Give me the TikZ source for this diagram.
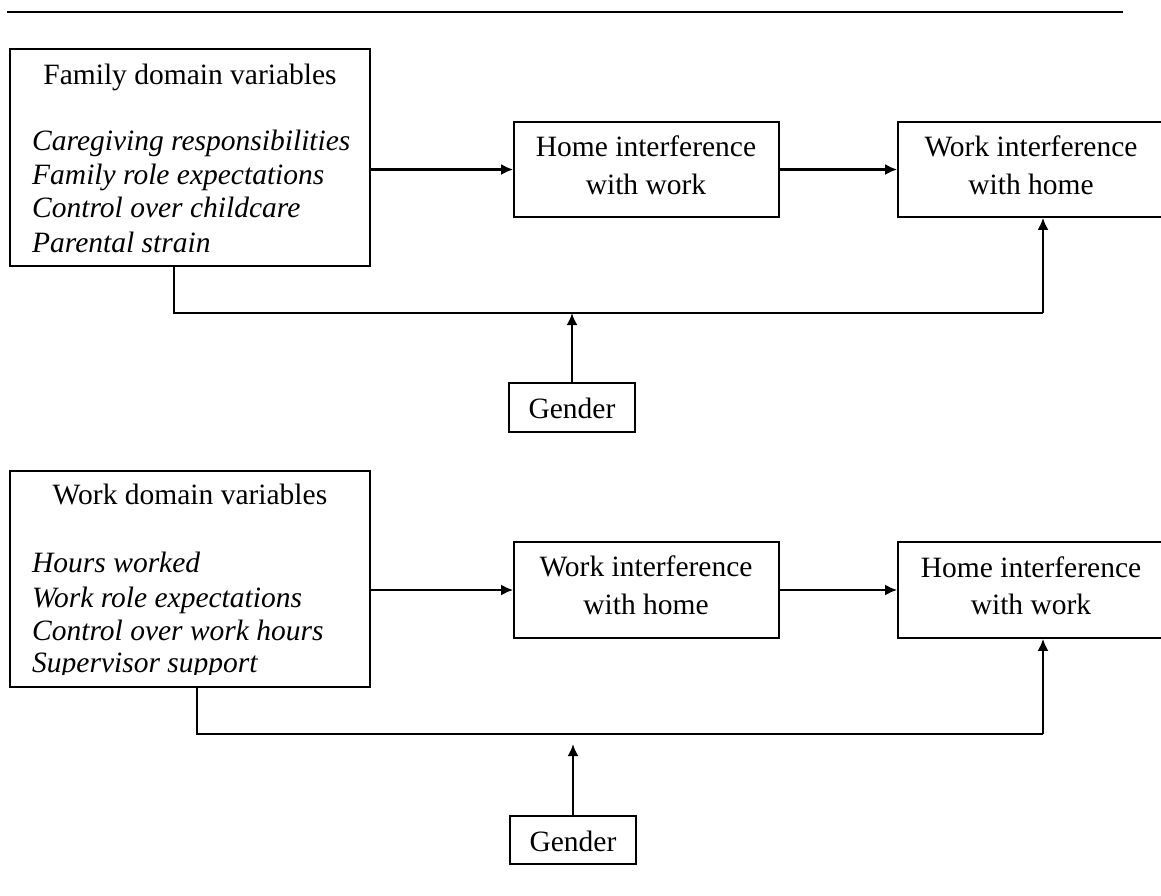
\documentclass[tikz,border=0pt]{standalone}
\usepackage{fontspec}
\setmainfont{Liberation Serif}
\usetikzlibrary{arrows.meta}

\begin{document}
\begin{tikzpicture}[x=1pt,y=-1pt,
  box/.style={draw=black,line width=1.6pt,rectangle,inner sep=0pt},
  lbl/.style={font=\fontsize{29.5}{37}\selectfont,inner sep=0pt,anchor=base},
  item/.style={font=\fontsize{29.5}{37}\selectfont\itshape,inner sep=0pt,anchor=base west},
  arr/.style={line width=2.5pt,-{Latex[length=12pt,width=11pt]}},
  link/.style={line width=1.6pt}]
\useasboundingbox (0,0) rectangle (1161,896);

% rule across the top
\draw[line width=2.6pt] (7,12) -- (1123,12);

% ---------- upper model: family domain ----------
\node[box,minimum width=360pt,minimum height=217pt] (fam) at (190,157.5) {};
\node[lbl] (famtitle) at (190,85) {Family domain variables};
\node[item] (f1) at (32,151) {Caregiving responsibilities};
\node[item] (f2) at (32,185) {Family role expectations};
\node[item] (f3) at (32,218) {Control over childcare};
\node[item] (f4) at (32,252) {Parental strain};

\node[box,minimum width=265pt,minimum height=95pt] (hiw1) at (646.5,169.5) {};
\node[lbl] at (646,157) {Home interference};
\node[lbl] at (646,195) {with work};

\node[box,minimum width=266pt,minimum height=95pt] (wih1) at (1031,169.5) {};
\node[lbl] at (1031,157) {Work interference};
\node[lbl] at (1031,195) {with home};

\node[box,minimum width=126pt,minimum height=49pt] (gen1) at (572,407.5) {};
\node[lbl] at (572,418) {Gender};

\coordinate (c1a) at (174,313);
\coordinate (c1b) at (1043,313);
\coordinate (m1) at (572,313);

\draw[arr] (fam.east |- hiw1.west) -- (hiw1.west);
\draw[arr] (hiw1.east) -- (wih1.west);
\draw[link] (fam.south -| c1a) -- (c1a) -- (c1b);
\draw[arr] (c1b) -- (wih1.south -| c1b);
\draw[arr] (gen1.north) -- (m1);

% ---------- lower model: work domain ----------
\node[box,minimum width=360pt,minimum height=216pt] (wrk) at (190,579) {};
\node[lbl] (wrktitle) at (190,504) {Work domain variables};
\node[item] (w1) at (32,572) {Hours worked};
\node[item] (w2) at (32,607) {Work role expectations};
\node[item] (w3) at (32,640) {Control over work hours};
\begin{scope}
  \clip (20,645) rectangle (360,674);
  \node[item] (w4) at (32,672) {Supervisor support};
\end{scope}

\node[box,minimum width=265pt,minimum height=96pt] (wih2) at (646.5,590) {};
\node[lbl] at (646,576) {Work interference};
\node[lbl] at (646,614) {with home};

\node[box,minimum width=266pt,minimum height=96pt] (hiw2) at (1031,590) {};
\node[lbl] at (1031,577) {Home interference};
\node[lbl] at (1031,614) {with work};

\node[box,minimum width=126pt,minimum height=48pt] (gen2) at (573,840) {};
\node[lbl] at (573,851) {Gender};

\coordinate (c2a) at (197,734);
\coordinate (c2b) at (1043,734);
\coordinate (m2) at (573,744);

\draw[arr] (wrk.east |- wih2.west) -- (wih2.west);
\draw[arr] (wih2.east) -- (hiw2.west);
\draw[link] (wrk.south -| c2a) -- (c2a) -- (c2b);
\draw[arr] (c2b) -- (hiw2.south -| c2b);
\draw[arr] (gen2.north) -- (m2);
\end{tikzpicture}
\end{document}
